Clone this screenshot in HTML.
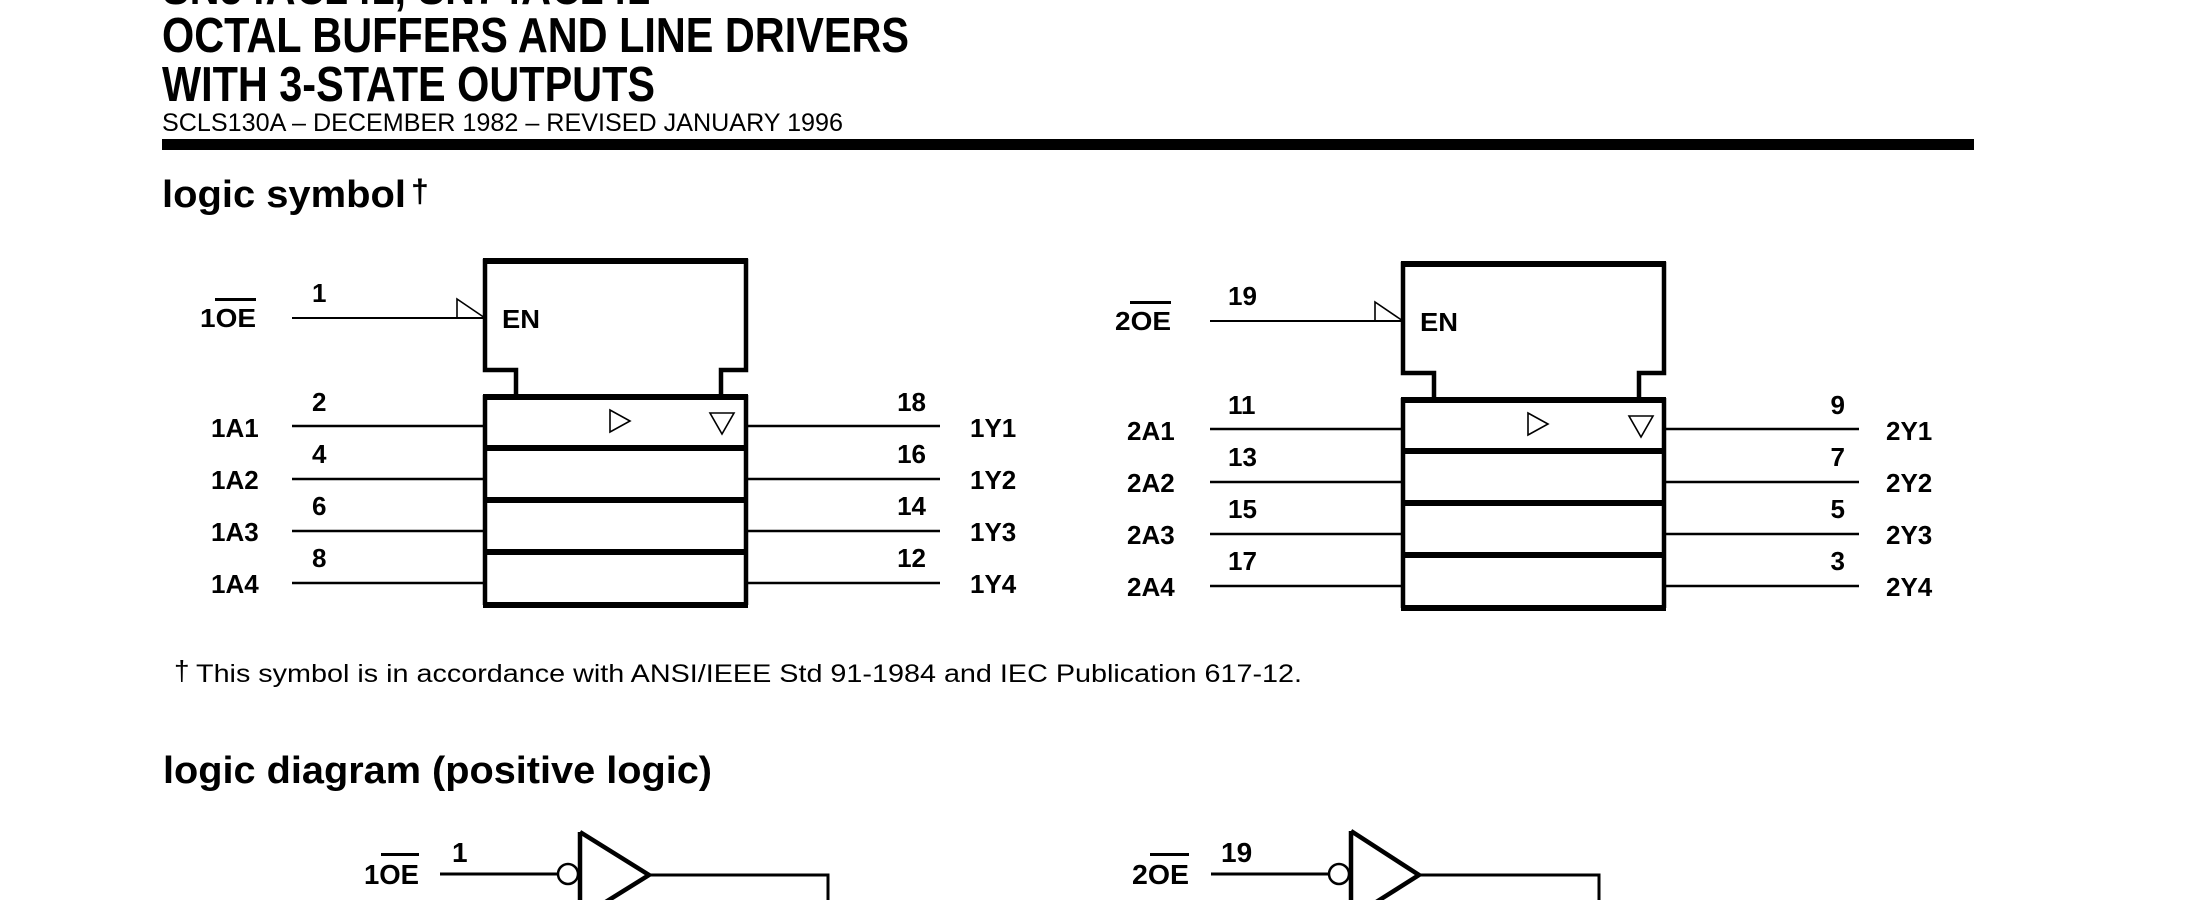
<!DOCTYPE html>
<html><head><meta charset="utf-8"><style>
html,body{margin:0;padding:0;background:#fff;}
svg{display:block;}
text{font-family:"Liberation Sans",sans-serif;font-weight:bold;fill:#000;}
</style></head><body>
<svg width="2210" height="900" viewBox="0 0 2210 900" xmlns="http://www.w3.org/2000/svg">
<!-- header -->
<text x="162" y="4" font-size="49" textLength="488" lengthAdjust="spacingAndGlyphs">SN54AC241, SN74AC241</text>
<text x="162" y="52" font-size="49" textLength="747" lengthAdjust="spacingAndGlyphs">OCTAL BUFFERS AND LINE DRIVERS</text>
<text x="162" y="101" font-size="49" textLength="493" lengthAdjust="spacingAndGlyphs">WITH 3-STATE OUTPUTS</text>
<text x="162" y="131" font-size="25" style="font-weight:normal" textLength="681" lengthAdjust="spacingAndGlyphs">SCLS130A – DECEMBER 1982 – REVISED JANUARY 1996</text>
<rect x="162" y="139" width="1812" height="11" fill="#000"/>
<text x="162" y="207" font-size="38" textLength="244" lengthAdjust="spacingAndGlyphs">logic symbol</text>
<text x="411" y="202" font-size="32">†</text>

<!-- symbol 1 -->
<g fill="none" stroke="#000">
  <path d="M516,395 V370 H485 V261 H746 V370 H721 V395" stroke-width="4.5"/>
  <line x1="483" y1="261" x2="748" y2="261" stroke-width="6"/>
  <line x1="485" y1="395" x2="485" y2="605" stroke-width="4.5"/>
  <line x1="746" y1="395" x2="746" y2="605" stroke-width="4.5"/>
  <line x1="483" y1="397" x2="748" y2="397" stroke-width="6"/>
  <line x1="483" y1="448" x2="748" y2="448" stroke-width="6"/>
  <line x1="483" y1="500" x2="748" y2="500" stroke-width="6"/>
  <line x1="483" y1="552" x2="748" y2="552" stroke-width="6"/>
  <line x1="483" y1="605" x2="748" y2="605" stroke-width="6"/>
  <line x1="292" y1="318" x2="485" y2="318" stroke-width="2"/>
  <path d="M457,318 V299 L485,318" stroke-width="1.6"/>
  <line x1="292" y1="426" x2="485" y2="426" stroke-width="2.5"/>
  <line x1="292" y1="479" x2="485" y2="479" stroke-width="2.5"/>
  <line x1="292" y1="531" x2="485" y2="531" stroke-width="2.5"/>
  <line x1="292" y1="583" x2="485" y2="583" stroke-width="2.5"/>
  <line x1="746" y1="426" x2="940" y2="426" stroke-width="2.5"/>
  <line x1="746" y1="479" x2="940" y2="479" stroke-width="2.5"/>
  <line x1="746" y1="531" x2="940" y2="531" stroke-width="2.5"/>
  <line x1="746" y1="583" x2="940" y2="583" stroke-width="2.5"/>
  <polygon points="610,410 610,432 630,421" stroke-width="1.6"/>
  <polygon points="710,413 734,413 722,434" stroke-width="1.6"/>
</g>
<g font-size="26">
  <text x="200" y="327" textLength="56" lengthAdjust="spacingAndGlyphs">1OE</text>
  <rect x="215" y="298" width="41" height="3" fill="#000"/>
  <text x="312" y="302">1</text>
  <text x="502" y="328" textLength="38" lengthAdjust="spacingAndGlyphs">EN</text>
  <text x="312" y="411">2</text><text x="312" y="463">4</text><text x="312" y="515">6</text><text x="312" y="567">8</text>
  <text x="211" y="437">1A1</text><text x="211" y="489">1A2</text><text x="211" y="541">1A3</text><text x="211" y="593">1A4</text>
  <text x="926" y="411" text-anchor="end">18</text><text x="926" y="463" text-anchor="end">16</text><text x="926" y="515" text-anchor="end">14</text><text x="926" y="567" text-anchor="end">12</text>
  <text x="970" y="437">1Y1</text><text x="970" y="489">1Y2</text><text x="970" y="541">1Y3</text><text x="970" y="593">1Y4</text>
</g>

<!-- symbol 2 -->
<g transform="translate(918,3)">
<g fill="none" stroke="#000">
  <path d="M516,395 V370 H485 V261 H746 V370 H721 V395" stroke-width="4.5"/>
  <line x1="483" y1="261" x2="748" y2="261" stroke-width="6"/>
  <line x1="485" y1="395" x2="485" y2="605" stroke-width="4.5"/>
  <line x1="746" y1="395" x2="746" y2="605" stroke-width="4.5"/>
  <line x1="483" y1="397" x2="748" y2="397" stroke-width="6"/>
  <line x1="483" y1="448" x2="748" y2="448" stroke-width="6"/>
  <line x1="483" y1="500" x2="748" y2="500" stroke-width="6"/>
  <line x1="483" y1="552" x2="748" y2="552" stroke-width="6"/>
  <line x1="483" y1="605" x2="748" y2="605" stroke-width="6"/>
  <line x1="292" y1="318" x2="485" y2="318" stroke-width="2"/>
  <path d="M457,318 V299 L485,318" stroke-width="1.6"/>
  <line x1="292" y1="426" x2="485" y2="426" stroke-width="2.5"/>
  <line x1="292" y1="479" x2="485" y2="479" stroke-width="2.5"/>
  <line x1="292" y1="531" x2="485" y2="531" stroke-width="2.5"/>
  <line x1="292" y1="583" x2="485" y2="583" stroke-width="2.5"/>
  <line x1="746" y1="426" x2="941" y2="426" stroke-width="2.5"/>
  <line x1="746" y1="479" x2="941" y2="479" stroke-width="2.5"/>
  <line x1="746" y1="531" x2="941" y2="531" stroke-width="2.5"/>
  <line x1="746" y1="583" x2="941" y2="583" stroke-width="2.5"/>
  <polygon points="610,410 610,432 630,421" stroke-width="1.6"/>
  <polygon points="711,413 735,413 723,434" stroke-width="1.6"/>
</g>
<g font-size="26">
  <text x="197" y="327" textLength="56" lengthAdjust="spacingAndGlyphs">2OE</text>
  <rect x="212" y="298" width="41" height="3" fill="#000"/>
  <text x="310" y="302">19</text>
  <text x="502" y="328" textLength="38" lengthAdjust="spacingAndGlyphs">EN</text>
  <text x="310" y="411">11</text><text x="310" y="463">13</text><text x="310" y="515">15</text><text x="310" y="567">17</text>
  <text x="209" y="437">2A1</text><text x="209" y="489">2A2</text><text x="209" y="541">2A3</text><text x="209" y="593">2A4</text>
  <text x="927" y="411" text-anchor="end">9</text><text x="927" y="463" text-anchor="end">7</text><text x="927" y="515" text-anchor="end">5</text><text x="927" y="567" text-anchor="end">3</text>
  <text x="968" y="437">2Y1</text><text x="968" y="489">2Y2</text><text x="968" y="541">2Y3</text><text x="968" y="593">2Y4</text>
</g>
</g>

<!-- footnote -->
<text x="174" y="680" font-size="28" style="font-weight:normal">†</text>
<text x="196" y="682" font-size="25" style="font-weight:normal" textLength="1106" lengthAdjust="spacingAndGlyphs">This symbol is in accordance with ANSI/IEEE Std 91-1984 and IEC Publication 617-12.</text>

<text x="163" y="783" font-size="38" textLength="549" lengthAdjust="spacingAndGlyphs">logic diagram (positive logic)</text>

<!-- logic diagram gates -->
<g fill="none" stroke="#000">
  <line x1="440" y1="874" x2="558" y2="874" stroke-width="3"/>
  <circle cx="568" cy="874" r="10" stroke-width="2.5" fill="#fff"/>
  <path d="M580,832 V920 M580,832 L649,875 L580,918" stroke-width="4.5"/>
  <path d="M649,875 H828 V900" stroke-width="3"/>
  <line x1="1211" y1="874" x2="1329" y2="874" stroke-width="3"/>
  <circle cx="1339" cy="874" r="10" stroke-width="2.5" fill="#fff"/>
  <path d="M1351,831 V920 M1351,831 L1419,875 L1351,918" stroke-width="4.5"/>
  <path d="M1419,875 H1599 V900" stroke-width="3"/>
</g>
<g font-size="28">
  <text x="364" y="884" textLength="55" lengthAdjust="spacingAndGlyphs">1OE</text>
  <rect x="381" y="853" width="38" height="3" fill="#000"/>
  <text x="452" y="862">1</text>
  <text x="1132" y="884" textLength="57" lengthAdjust="spacingAndGlyphs">2OE</text>
  <rect x="1150" y="853" width="39" height="3" fill="#000"/>
  <text x="1221" y="862">19</text>
</g>
</svg>
</body></html>
